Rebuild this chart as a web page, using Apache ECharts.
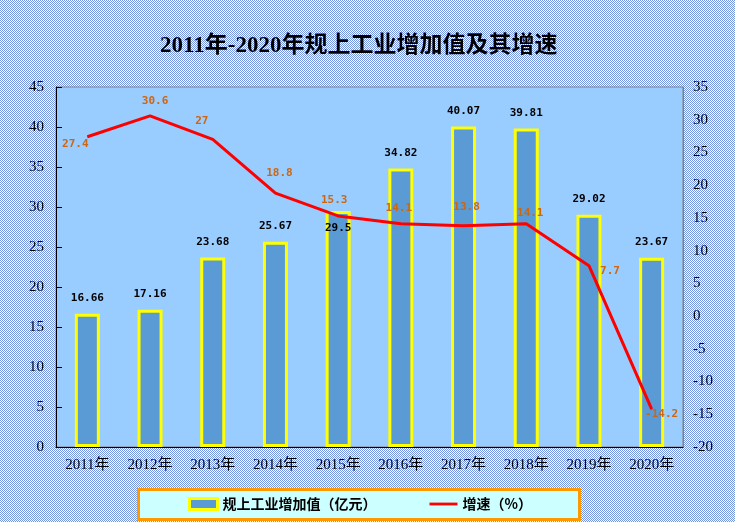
<!DOCTYPE html>
<html>
<head>
<meta charset="utf-8">
<script src="https://cdn.jsdelivr.net/npm/echarts@6/dist/echarts.min.js"></script>
<style>
html,body{margin:0;padding:0;width:735px;height:522px;overflow:hidden;background-color:#b9c9f0;}
#c{width:735px;height:522px;}
</style>
</head>
<body>
<div id="c"></div>
<script>
var categories = ['2011年','2012年','2013年','2014年','2015年','2016年','2017年','2018年','2019年','2020年'];
var valueAdded = [16.66, 17.16, 23.68, 25.67, 29.5, 34.82, 40.07, 39.81, 29.02, 23.67];
var growthRate = [27.4, 30.6, 27, 18.8, 15.3, 14.1, 13.8, 14.1, 7.7, -14.2];
var leftTicks = {min: 0, max: 45, interval: 5};
var rightTicks = {min: -20, max: 35, interval: 5};

var growthLabelOffsets = [[-12,7],[5,-15],[-11,-18],[4,-20],[-4,-16],[-2,-16],[3,-19],[4,-11],[21,5],[10,5]];

// checkerboard page background (pixel dither as in the reference)
(function(){
  var cv = document.createElement('canvas');
  cv.width = 2; cv.height = 2;
  var ctx = cv.getContext('2d');
  ctx.fillStyle = '#ffffff'; ctx.fillRect(0,0,2,2);
  ctx.fillStyle = '#7494e2'; ctx.fillRect(0,0,1,1); ctx.fillRect(1,1,1,1);
  document.body.style.backgroundImage = 'url(' + cv.toDataURL() + ')';
  document.body.style.backgroundRepeat = 'repeat';
  document.body.style.imageRendering = 'pixelated';
})();

var serif = '"Liberation Serif","Noto Sans CJK SC",serif';
var mono = '"DejaVu Sans Mono","Noto Sans CJK SC",monospace';
var cjk = '"Noto Sans CJK SC",sans-serif';

var barData = valueAdded.map(function(v, i){
  var d = {value: v};
  if (i === 4) {
    d.label = {position: 'insideTop', distance: 12};
  }
  return d;
});
var lineData = growthRate.map(function(v, i){
  return {value: v, label: {position: 'inside', offset: growthLabelOffsets[i]}};
});

var chart = echarts.init(document.getElementById('c'));
chart.setOption({
  backgroundColor: 'transparent',
  animation: false,
  title: {
    text: '2011年-2020年规上工业增加值及其增速',
    left: 160,
    top: 35,
    padding: 0,
    textStyle: {fontFamily: serif, fontSize: 23, fontWeight: 'bold', color: '#000'}
  },
  graphic: [{
    type: 'rect',
    shape: {x: 138.5, y: 489.5, width: 441, height: 30},
    style: {fill: '#CCFFFF', stroke: '#FF9900', lineWidth: 3},
    z: -1
  }],
  legend: {
    left: 188,
    top: 497,
    padding: 0,
    itemWidth: 28,
    itemHeight: 11,
    itemGap: 53,
    textStyle: {fontFamily: cjk, fontSize: 14, fontWeight: 'bold', color: '#000'},
    data: [
      {name: '规上工业增加值（亿元）', icon: 'rect', itemStyle: {color: '#5B9BD5', borderColor: '#FFFF00', borderWidth: 3}},
      {name: '增速（%）', icon: 'path://M0 0H30V3H0Z', itemStyle: {color: '#FF0000', borderWidth: 0}}
    ]
  },
  grid: {
    left: 56, right: 52, top: 87, bottom: 75,
    show: true, backgroundColor: '#99CCFF', borderColor: '#808080', borderWidth: 1
  },
  xAxis: {
    type: 'category',
    data: categories,
    axisLine: {lineStyle: {color: '#000', width: 1}},
    axisTick: {inside: true, length: 5, lineStyle: {color: '#000'}},
    axisLabel: {fontFamily: serif, fontSize: 15, color: '#000', margin: 11}
  },
  yAxis: [{
    type: 'value',
    min: leftTicks.min, max: leftTicks.max, interval: leftTicks.interval,
    splitLine: {show: false},
    axisLine: {show: true, lineStyle: {color: '#000'}},
    axisTick: {show: true, inside: true, length: 6, lineStyle: {color: '#000'}},
    axisLabel: {fontFamily: serif, fontSize: 15, color: '#000', margin: 12}
  }, {
    type: 'value',
    position: 'right',
    min: rightTicks.min, max: rightTicks.max, interval: rightTicks.interval,
    splitLine: {show: false},
    axisLine: {show: true, lineStyle: {color: '#808080'}},
    axisTick: {show: false},
    axisLabel: {fontFamily: serif, fontSize: 15, color: '#000', margin: 10}
  }],
  series: [{
    name: '规上工业增加值（亿元）',
    type: 'bar',
    yAxisIndex: 0,
    barWidth: 25,
    data: barData,
    itemStyle: {color: '#5B9BD5', borderColor: '#FFFF00', borderWidth: 3},
    label: {show: true, position: 'top', distance: 10, fontFamily: mono, fontSize: 11, fontWeight: 'bold', color: '#000'},
    z: 2
  }, {
    name: '增速（%）',
    type: 'line',
    yAxisIndex: 1,
    data: lineData,
    symbol: 'circle',
    symbolSize: 1,
    showSymbol: true,
    itemStyle: {color: '#FF0000'},
    lineStyle: {color: '#FF0000', width: 3},
    label: {show: true, fontFamily: mono, fontSize: 11, fontWeight: 'bold', color: '#CC6611'},
    z: 3
  }]
});
</script>
</body>
</html>
